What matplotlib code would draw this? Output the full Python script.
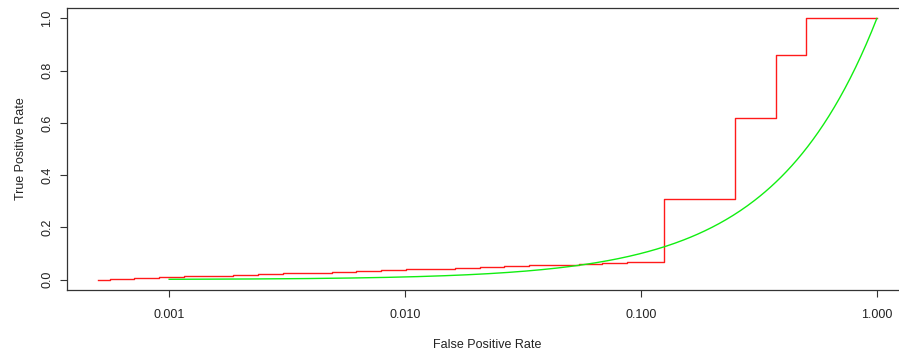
import numpy as np
import matplotlib
matplotlib.use("Agg")
import matplotlib.pyplot as plt

plt.rcParams["font.family"] = ["Liberation Sans", "DejaVu Sans"]

# ROC curve of the classifier (step curve, FPR on a log axis)
roc_fpr = [0.0005, 0.00056, 0.00071, 0.00091, 0.00116, 0.00147, 0.00187,
           0.00237, 0.00303, 0.00383, 0.00489, 0.00621, 0.00793, 0.0101,
           0.0128, 0.0163, 0.0207, 0.0263, 0.0336, 0.0427, 0.0545, 0.0684,
           0.0873, 0.1114, 0.125, 0.25, 0.375, 0.5, 1.0]
roc_tpr = [0.000, 0.003, 0.006, 0.009, 0.012, 0.015, 0.018,
           0.021, 0.024, 0.027, 0.030, 0.033, 0.036, 0.039,
           0.042, 0.045, 0.048, 0.051, 0.054, 0.057, 0.060, 0.063,
           0.066, 0.069, 0.31, 0.62, 0.86, 1.0, 1.0]

# chance diagonal TPR = FPR, sampled densely so it bends on the log axis
chance_fpr = np.logspace(-3, 0, 400)
chance_tpr = chance_fpr

x_ticks = [0.001, 0.01, 0.1, 1.0]
x_tick_labels = ["0.001", "0.010", "0.100", "1.000"]
y_ticks = [0.0, 0.2, 0.4, 0.6, 0.8, 1.0]
y_tick_labels = ["0.0", "0.2", "0.4", "0.6", "0.8", "1.0"]

W, H = 899, 351
fig = plt.figure(figsize=(W / 100, H / 100), dpi=100)
ax = fig.add_axes([67 / W, (H - 290) / H, (908 - 67) / W, 282 / H])

ax.step(roc_fpr, roc_tpr, where="post", color="#ff1a1a", lw=1.0)
ax.plot(chance_fpr, chance_tpr, color="#11ee11", lw=1.0)

ax.set_xscale("log")
lo, hi = np.log10(min(roc_fpr)), np.log10(max(roc_fpr))
pad = 0.04 * (hi - lo)
ax.set_xlim(10 ** (lo - pad), 10 ** (hi + pad))
ax.set_ylim(-0.04, 1.04)

ax.xaxis.set_minor_locator(matplotlib.ticker.NullLocator())
ax.set_xticks(x_ticks)
ax.set_xticklabels(x_tick_labels)
ax.set_yticks(y_ticks)
ax.set_yticklabels(y_tick_labels, rotation=90, va="center")

ax.tick_params(axis="both", direction="out", length=5.0, width=0.8,
               color="#333333", labelsize=9, labelcolor="#222222")
ax.tick_params(axis="x", pad=8.5)
ax.tick_params(axis="y", pad=5)

for s in ax.spines.values():
    s.set_color("#333333")
    s.set_linewidth(0.9)

ax.set_xlabel("False Positive Rate", fontsize=9, color="#222222", labelpad=13.5)
ax.set_ylabel("True Positive Rate", fontsize=9, color="#222222", labelpad=10)

fig.savefig("out.png", dpi=100)
